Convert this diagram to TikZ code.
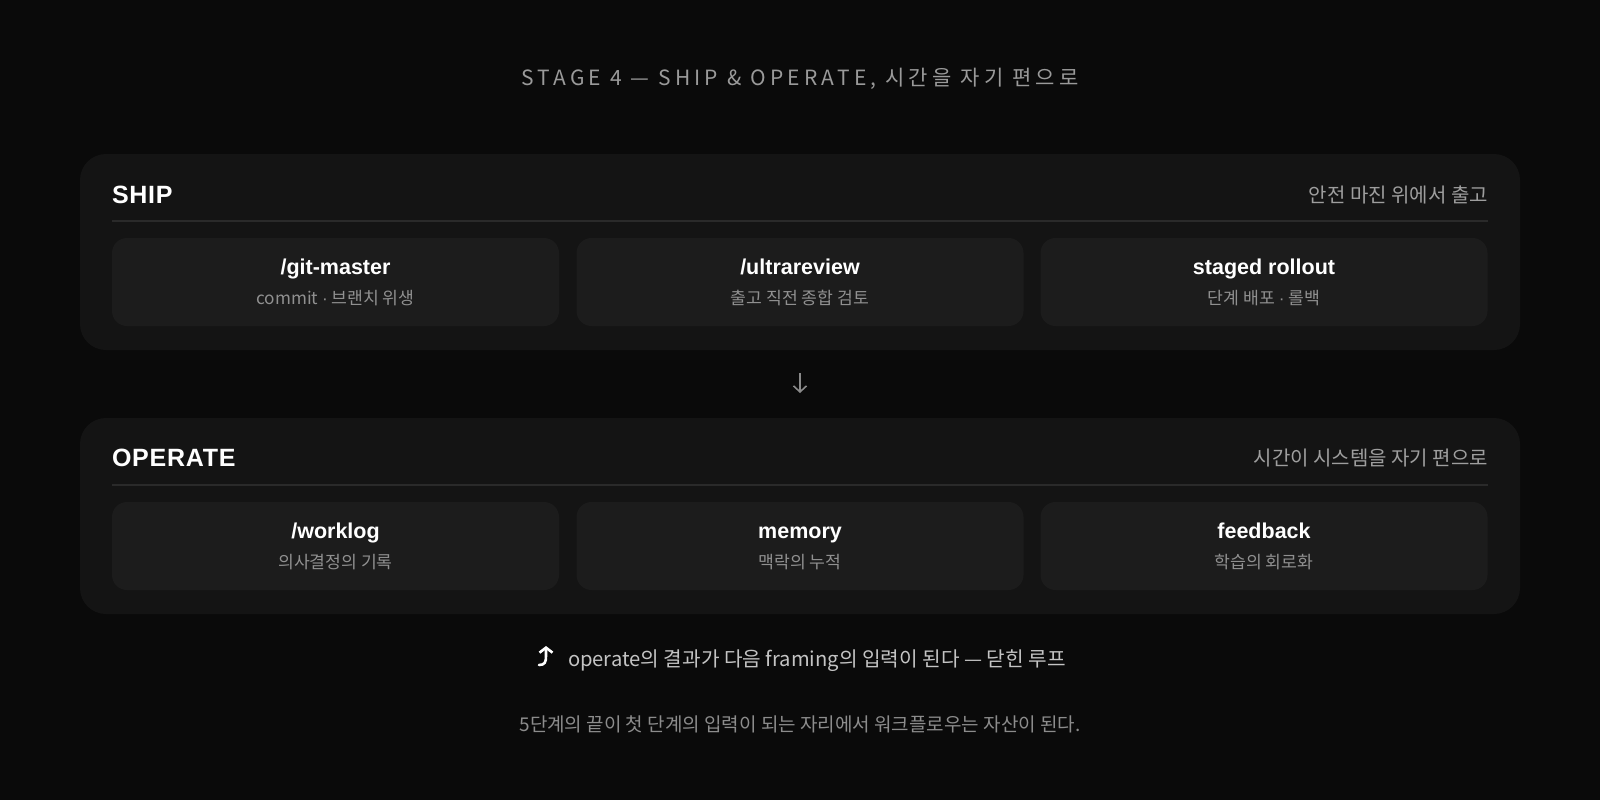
\documentclass[tikz,border=0pt]{standalone}
\usepackage{fontspec}
\usetikzlibrary{arrows.meta}
\setmainfont{Noto Sans CJK KR}
\newfontfamily\latinfont{Liberation Sans}
\newfontfamily\titlefont[LetterSpace=20]{Noto Sans CJK KR}
\newfontfamily\headfont[LetterSpace=3]{Liberation Sans}
\newcommand\mdot{{\latinfont\mbox{}·}}
\definecolor{bgc}{HTML}{0A0A0A}
\definecolor{panelc}{HTML}{141414}
\definecolor{cardc}{HTML}{1C1C1C}
\definecolor{rulec}{HTML}{2A2A2A}
\definecolor{titlec}{HTML}{9A9A9A}
\definecolor{labelc}{HTML}{9E9E9E}
\definecolor{subc}{HTML}{909090}
\definecolor{loopc}{HTML}{C4C4C4}
\definecolor{footc}{HTML}{8C8C8C}
\definecolor{arrc}{HTML}{8A8A8A}
\tikzset{
  panel/.style={rectangle, fill=panelc, rounded corners=26pt, minimum width=1440pt, minimum height=196pt, inner sep=0pt},
  card/.style={rectangle, fill=cardc, rounded corners=15pt, minimum width=447pt, minimum height=88pt, inner sep=0pt},
  txt/.style={inner sep=0pt, outer sep=0pt},
  stagetitle/.style={txt, anchor=base, text=titlec, font=\titlefont\fontsize{21}{25}\selectfont},
  head/.style={txt, anchor=base west, text=white, font=\headfont\bfseries\fontsize{25}{30}\selectfont},
  headlabel/.style={txt, anchor=base east, text=labelc, font=\fontsize{20}{24}\selectfont},
  ctitle/.style={txt, anchor=base, text=white, font=\latinfont\bfseries\fontsize{21.5}{26}\selectfont},
  csub/.style={txt, anchor=base, text=subc, font=\fontsize{17.2}{21}\selectfont},
  divider/.style={draw=rulec, line width=1.5pt},
  flow/.style={draw=arrc, line width=1.6pt, -{Straight Barb[length=6pt,width=13pt]}},
  looparrow/.style={draw=white, line width=2.6pt, line cap=round, line join=round, -{Straight Barb[length=5pt,width=13pt]}},
  looptxt/.style={txt, anchor=base west, text=loopc, font=\fontsize{20.2}{24}\selectfont},
  foot/.style={txt, anchor=base, text=footc, font=\fontsize{19}{23}\selectfont},
}
\begin{document}
\begin{tikzpicture}[x=1pt, y=-1pt]
\fill[bgc] (0,0) rectangle (1600,800);
\useasboundingbox (0,0) rectangle (1600,800);

\node[stagetitle] (stage) at (800,85) {STAGE 4 — SHIP \& OPERATE, 시간을 자기 편으로};

% SHIP panel
\node[panel] (ship) at (800,252) {};
\node[head] (shiph) at (112,203) {SHIP};
\node[headlabel] (shipl) at (1488,202) {안전 마진 위에서 출고};
\coordinate (shipdl) at (112,221);
\coordinate (shipdr) at (1488,221);
\draw[divider] (shipdl) -- (shipdr);

\node[card] (c1) at (335.5,282) {};
\node[card] (c2) at (800,282) {};
\node[card] (c3) at (1264,282) {};
\node[ctitle] (c1t) at (335.5,274) {/git-master};
\node[csub] (c1s) at (335.5,304) {commit \mdot{} 브랜치 위생};
\node[ctitle] (c2t) at (800,274) {/ultrareview};
\node[csub] (c2s) at (800,304) {출고 직전 종합 검토};
\node[ctitle] (c3t) at (1264,274) {staged rollout};
\node[csub] (c3s) at (1264,304) {단계 배포 \mdot{} 롤백};

% OPERATE panel
\node[panel] (ops) at (800,516) {};
\node[head] (opsh) at (112,466) {OPERATE};
\node[headlabel] (opsl) at (1488,465) {시간이 시스템을 자기 편으로};
\coordinate (opsdl) at (112,485);
\coordinate (opsdr) at (1488,485);
\draw[divider] (opsdl) -- (opsdr);

\node[card] (d1) at (335.5,546) {};
\node[card] (d2) at (800,546) {};
\node[card] (d3) at (1264,546) {};
\node[ctitle] (d1t) at (335.5,538) {/worklog};
\node[csub] (d1s) at (335.5,568) {의사결정의 기록};
\node[ctitle] (d2t) at (800,538) {memory};
\node[csub] (d2s) at (800,568) {맥락의 누적};
\node[ctitle] (d3t) at (1264,538) {feedback};
\node[csub] (d3s) at (1264,568) {학습의 회로화};

% flow arrow between panels
\coordinate (fa) at (800,373);
\coordinate (fb) at (800,393);
\draw[flow] (fa) -- (fb);

% loop line
\coordinate (lpA) at (539,665);
\coordinate (lpB) at (546,646);
\draw[looparrow] (lpA) .. controls (545,665) and (546,662) .. (546,656) -- (lpB);
\node[looptxt] (loop) at (568,666) {operate의 결과가 다음 framing의 입력이 된다 — 닫힌 루프};

% footer
\node[foot] (footer) at (800,731) {5단계의 끝이 첫 단계의 입력이 되는 자리에서 워크플로우는 자산이 된다.};
\end{tikzpicture}
\end{document}
